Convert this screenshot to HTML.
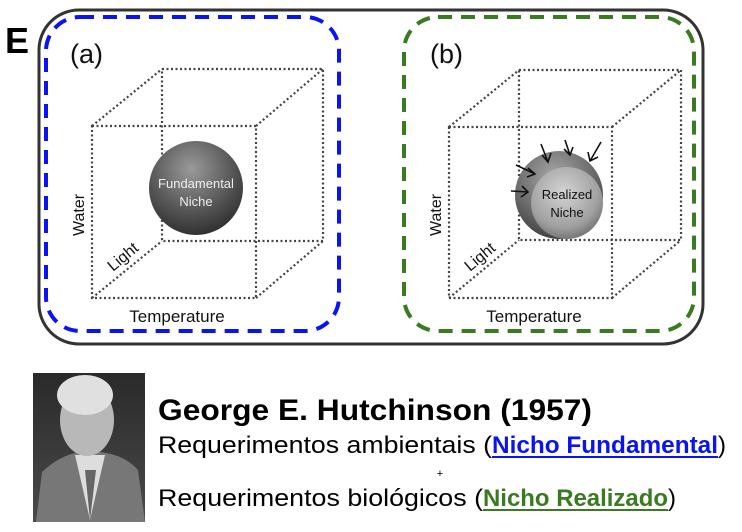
<!DOCTYPE html>
<html><head><meta charset="utf-8"><style>
html,body{margin:0;padding:0;background:#fff;width:742px;height:532px;overflow:hidden}
svg{display:block}
text{font-family:"Liberation Sans",sans-serif}
</style></head><body>
<svg width="742" height="532" viewBox="0 0 742 532">
<defs>
<radialGradient id="gs" cx="0.45" cy="0.3" r="0.75">
<stop offset="0" stop-color="#9a9a9a"/><stop offset="0.6" stop-color="#555"/><stop offset="1" stop-color="#2a2a2a"/></radialGradient>
<radialGradient id="gs2" cx="0.45" cy="0.3" r="0.75">
<stop offset="0" stop-color="#a8a8a8"/><stop offset="0.6" stop-color="#6a6a6a"/><stop offset="1" stop-color="#3a3a3a"/></radialGradient>
<radialGradient id="gs3" cx="0.45" cy="0.35" r="0.7">
<stop offset="0" stop-color="#d4d4d4"/><stop offset="0.7" stop-color="#a0a0a0"/><stop offset="1" stop-color="#6a6a6a"/></radialGradient>
<linearGradient id="bg" x1="0" y1="0" x2="0" y2="1"><stop offset="0" stop-color="#2a2a2a"/><stop offset="1" stop-color="#4a4a4a"/></linearGradient>
</defs>
<text x="5" y="53" font-size="36" font-weight="bold" fill="#000">E</text>
<rect x="39" y="10" width="664" height="334" rx="40" fill="none" stroke="#333" stroke-width="3"/>

<g>
<rect x="46" y="17" width="293" height="314" rx="34" fill="none" stroke="#0a14f0" stroke-width="4" stroke-dasharray="14,9"/>
<text x="70" y="63" font-size="27" fill="#111">(a)</text>
<g fill="none" stroke="#444" stroke-width="2.2" stroke-dasharray="2,2.5">
<rect x="92" y="126" width="164" height="172"/>
<rect x="162" y="69" width="161" height="172"/>
<line x1="92" y1="126" x2="162" y2="69"/><line x1="256" y1="126" x2="323" y2="69"/>
<line x1="92" y1="298" x2="162" y2="241"/><line x1="256" y1="298" x2="323" y2="241"/>
</g>
<circle cx="196" cy="188" r="47" fill="url(#gs)"/>
<text x="196" y="188" font-size="13" fill="#eee" text-anchor="middle">Fundamental</text>
<text x="196" y="206" font-size="13" fill="#eee" text-anchor="middle">Niche</text>
<text transform="translate(84,236) rotate(-90)" font-size="16" fill="#111">Water</text>
<text transform="translate(113,272) rotate(-40)" font-size="16" fill="#111">Light</text>
<text x="177" y="322" font-size="17" fill="#111" text-anchor="middle">Temperature</text>
</g>

<g>
<rect x="404" y="17" width="290" height="314" rx="34" fill="none" stroke="#3a7a20" stroke-width="4" stroke-dasharray="14,9"/>
<text x="430" y="63" font-size="27" fill="#111">(b)</text>
<g fill="none" stroke="#444" stroke-width="2.2" stroke-dasharray="2,2.5">
<rect x="449" y="127" width="163" height="171"/>
<rect x="519" y="70" width="162" height="170"/>
<line x1="449" y1="127" x2="519" y2="70"/><line x1="612" y1="127" x2="681" y2="70"/>
<line x1="449" y1="298" x2="519" y2="240"/><line x1="612" y1="298" x2="681" y2="240"/>
</g>
<circle cx="559" cy="195" r="44" fill="url(#gs2)"/>
<circle cx="567" cy="203" r="36" fill="url(#gs3)"/>
<text x="567" y="199" font-size="13" fill="#111" text-anchor="middle">Realized</text>
<text x="567" y="217" font-size="13" fill="#111" text-anchor="middle">Niche</text>
<g stroke="#111" stroke-width="1.6" fill="none">
<path d="M511 191 L528 192 M522 186 L528 192 L521 197"/>
<path d="M516 165 L535 174 M528 168 L535 174 L527 177"/>
<path d="M541 144 L548 162 M542 155 L548 162 L551 153"/>
<path d="M565 140 L570 155 M564 149 L570 155 L573 147"/>
<path d="M601 142 L590 161 M588 152 L590 161 L598 157"/>
</g>
<text transform="translate(441,236) rotate(-90)" font-size="16" fill="#111">Water</text>
<text transform="translate(470,272) rotate(-40)" font-size="16" fill="#111">Light</text>
<text x="534" y="322" font-size="17" fill="#111" text-anchor="middle">Temperature</text>
</g>

<g>
<rect x="33" y="373" width="112" height="149" fill="url(#bg)"/>
<path d="M36 522 L42 472 Q60 455 80 452 L100 452 Q125 455 138 470 L145 522 Z" fill="#777"/>
<path d="M75 455 L90 520 L105 455 Z" fill="#ddd"/>
<path d="M85 470 L90 520 L96 470 Z" fill="#666"/>
<ellipse cx="87" cy="420" rx="27" ry="36" fill="#b8b8b8"/>
<ellipse cx="85" cy="395" rx="28" ry="20" fill="#e0e0e0"/>
</g>

<text x="158" y="420" font-size="30" font-weight="bold" fill="#000" textLength="434" lengthAdjust="spacingAndGlyphs">George E. Hutchinson (1957)</text>
<text x="158" y="453" font-size="24" fill="#000"><tspan textLength="334" lengthAdjust="spacingAndGlyphs">Requerimentos ambientais (</tspan><tspan font-weight="bold" fill="#0a14f0" textLength="226" lengthAdjust="spacingAndGlyphs">Nicho Fundamental</tspan><tspan>)</tspan></text>
<line x1="492" y1="457" x2="718" y2="457" stroke="#0a14f0" stroke-width="2"/>
<text x="440" y="477" font-size="11" fill="#000" text-anchor="middle">+</text>
<text x="158" y="506" font-size="24" fill="#000"><tspan textLength="325" lengthAdjust="spacingAndGlyphs">Requerimentos biológicos (</tspan><tspan font-weight="bold" fill="#3a7a20" textLength="185" lengthAdjust="spacingAndGlyphs">Nicho Realizado</tspan><tspan>)</tspan></text>
<line x1="483" y1="510" x2="668" y2="510" stroke="#3a7a20" stroke-width="2"/>
</svg>
</body></html>
